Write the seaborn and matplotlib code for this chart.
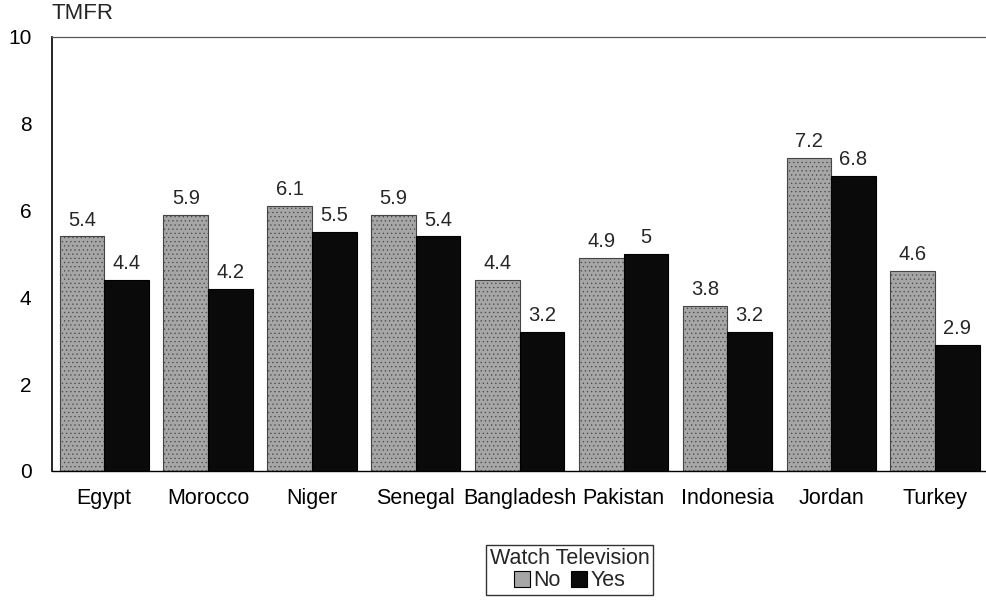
import pandas as pd
import numpy as np
import matplotlib
matplotlib.use("Agg")
import matplotlib.pyplot as plt
import seaborn as sns

# Values
countries = ['Egypt', 'Morocco', 'Niger', 'Senegal', 'Bangladesh',
             'Pakistan', 'Indonesia', 'Jordan', 'Turkey']
tmfr_no = [5.4, 5.9, 6.1, 5.9, 4.4, 4.9, 3.8, 7.2, 4.6]
tmfr_yes = [4.4, 4.2, 5.5, 5.4, 3.2, 5.0, 3.2, 6.8, 2.9]
labels_no = ['5.4', '5.9', '6.1', '5.9', '4.4', '4.9', '3.8', '7.2', '4.6']
labels_yes = ['4.4', '4.2', '5.5', '5.4', '3.2', '5', '3.2', '6.8', '2.9']

df = pd.DataFrame({
    'Country': countries * 2,
    'TMFR': tmfr_no + tmfr_yes,
    'Watch Television': ['No'] * len(countries) + ['Yes'] * len(countries),
})

sns.set_style('white')
plt.rcParams['font.family'] = ['Liberation Sans', 'DejaVu Sans']
plt.rcParams['hatch.linewidth'] = 0.4

fig = plt.figure(figsize=(9.87, 6.03), dpi=100)
ax = fig.add_axes([0.053, 0.219, 0.947, 0.72])

sns.barplot(data=df, x='Country', y='TMFR', hue='Watch Television',
            order=countries, hue_order=['No', 'Yes'],
            palette={'No': '#a6a6a6', 'Yes': '#0a0a0a'},
            width=0.86, edgecolor='black', linewidth=0.8,
            saturation=1, ax=ax, legend=True)

# light stipple on the grey bars
for bar in ax.containers[0]:
    bar.set_hatch('....')
    bar.set_edgecolor('#444444')

# value labels
for cont, labs in zip(ax.containers, [labels_no, labels_yes]):
    ax.bar_label(cont, labels=labs, padding=5, fontsize=14.5)

ax.set_xlim(-0.5, 8.5)
ax.set_ylim(0, 10)
ax.set_yticks([0, 2, 4, 6, 8, 10])
ax.set_xlabel('')
ax.set_ylabel('')
ax.tick_params(axis='both', length=0, labelcolor='black')
ax.tick_params(axis='x', pad=12, labelsize=15.5)
ax.tick_params(axis='y', pad=15, labelsize=15)

ax.spines['right'].set_visible(False)
ax.spines['top'].set_linestyle((0, (1, 1)))
ax.spines['top'].set_linewidth(0.9)
ax.spines['top'].set_color('#555555')
ax.spines['left'].set_color('black')
ax.spines['left'].set_linewidth(1.2)
ax.spines['bottom'].set_color('black')
ax.spines['bottom'].set_linewidth(1.0)

ax.text(-0.51, 10.3, 'TMFR', fontsize=16, ha='left', va='bottom')

# legend below the chart
handles, lbls = ax.get_legend_handles_labels()
ax.get_legend().remove()
leg = fig.legend(handles, lbls, title='Watch Television', ncol=2,
                 loc='lower center', bbox_to_anchor=(0.577, -0.004),
                 fontsize=15.5, title_fontsize=15.5, frameon=True,
                 fancybox=False, edgecolor='black', borderpad=0.15,
                 handlelength=0.75, handleheight=0.75, handletextpad=0.15,
                 columnspacing=0.5, labelspacing=0.05)
leg.get_frame().set_linewidth(1.0)

fig.savefig('out.png', dpi=100)
